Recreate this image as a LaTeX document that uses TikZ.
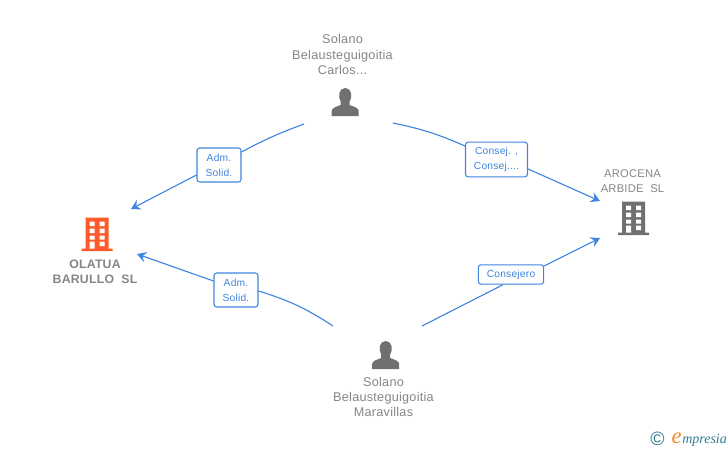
\documentclass[tikz,border=0pt]{standalone}
\usepackage{fontspec}
\usetikzlibrary{arrows.meta}
\setmainfont{Liberation Sans}[LetterSpace=2]
\newfontfamily\logofont{Liberation Serif}
\newfontfamily\plainfont{Liberation Sans}
\definecolor{linkblue}{HTML}{3F85DF}
\definecolor{iconorange}{HTML}{FF5A2B}
\definecolor{icongrey}{HTML}{707070}
\definecolor{textgrey}{HTML}{858585}
\definecolor{logoteal}{HTML}{2E7C8E}
\definecolor{logoorange}{HTML}{F08A1D}
\tikzset{
  person/.style = {align=center, text=textgrey, font=\fontsize{9.5}{11.4}\selectfont, inner sep=0pt},
  firm/.style = {person, font=\fontsize{8.4}{11.2}\selectfont},
  firmbold/.style = {firm, font=\bfseries\fontsize{9.2}{11.2}\selectfont},
  role/.style = {draw=linkblue, fill=white, rounded corners=2pt, line width=0.8pt, text=linkblue, align=center,
    font=\fontsize{7.7}{11.4}\selectfont, inner sep=0pt},
  link/.style = {draw=linkblue, line width=0.85pt},
  linkto/.style = {link, -{Stealth[length=7pt,width=8pt,inset=2.5pt]}},
  pics/building/.style = {code = {
    \fill[#1] (4,0) rectangle (27,31) (0,31) rectangle (31,33.5);
    \fill[white] (8,4) rectangle (13,8.5) (18,4) rectangle (23,8.5)
      (8,11) rectangle (13,15.5) (18,11) rectangle (23,15.5)
      (8,18) rectangle (13,22) (18,18) rectangle (23,22)
      (8,24) rectangle (13,31) (18,24) rectangle (23,28.5);
  }},
  pics/silhouette/.style = {code = {
    \fill[icongrey] (0,28) -- (0,23) .. controls (0,20) and (4,19) .. (9,17)
      .. controls (9.5,15.5) and (9.5,14.5) .. (9,13.5)
      .. controls (6,9) and (7,0) .. (13.5,0)
      .. controls (20,0) and (21,9) .. (18,13.5)
      .. controls (17.5,14.5) and (17.5,15.5) .. (18,17)
      .. controls (23,19) and (27,20) .. (27,23) -- (27,28) -- cycle;
  }}
}
\begin{document}
\begin{tikzpicture}[x=0.75pt, y=-0.75pt, >=Stealth]
  \useasboundingbox (0,0) rectangle (728,450);
  % companies and people
  \pic at (81.7,217.7) {building=iconorange};
  \node[firmbold] (olatua) at (95,272) {OLATUA\\BARULLO\ \ SL};
  \pic at (618,201.7) {building=icongrey};
  \node[firm] (arocena) at (632.5,181) {AROCENA\\ARBIDE\ \ SL};
  \node[person] (carlos) at (342.5,54.5) {Solano\\Belausteguigoitia\\Carlos...};
  \pic at (331.7,88) {silhouette};
  \pic at (372.2,341) {silhouette};
  \node[person] (maravillas) at (383.5,397) {Solano\\Belausteguigoitia\\Maravillas};
  % role boxes
  \node[role, minimum width=33pt, minimum height=25.5pt] (admtop) at (219,165) {Adm.\\Solid.};
  \node[role, minimum width=33pt, minimum height=25.5pt] (admlow) at (236,290) {Adm.\\Solid.};
  \node[role, minimum width=46.5pt, minimum height=26pt] (consej) at (496.5,159.5) {Consej. ,\\Consej....};
  \node[role, minimum width=49pt, minimum height=14.5pt] (consejero) at (511,274.5) {Consejero};
  % free ends of the links
  \coordinate (topleft) at (304,124);
  \coordinate (topright) at (393,123);
  \coordinate (lowleft) at (333,326);
  \coordinate (lowright) at (422,326);
  \coordinate (intoolatuatop) at (131,209);
  \coordinate (intoolatualow) at (137,254);
  \coordinate (intoarocenatop) at (600,201);
  \coordinate (intoarocenalow) at (600,238);
  % links
  \draw[link] (topleft) to[bend right=4] (admtop.east |- 0,152);
  \draw[linkto] (admtop.west |- 0,175) -- (intoolatuatop);
  \draw[link] (lowleft) to[bend right=8] (admlow.east |- 0,291);
  \draw[linkto] (admlow.west |- 0,281) -- (intoolatualow);
  \draw[link] (topright) to[bend left=6] (consej.west |- 0,146);
  \draw[linkto] (consej.east |- 0,169) -- (intoarocenatop);
  \draw[link] (lowright) -- (consejero.south -| 503,0);
  \draw[linkto] (consejero.east |- 0,266) -- (intoarocenalow);
  % logo
  \node[text=logoteal, font=\plainfont\fontsize{14.5}{14}\selectfont, inner sep=0pt] (copyr) at (657.5,439) {©};
  \node[text=logoteal, font=\logofont\itshape\fontsize{10.5}{12}\selectfont, inner sep=0pt, anchor=base west] (brand) at (682,443) {mpresia};
  \node[text=logoorange, font=\logofont\itshape\fontsize{17}{12}\selectfont, inner sep=0pt, anchor=base east] (brandinit) at (brand.base west) {e};
\end{tikzpicture}
\end{document}
